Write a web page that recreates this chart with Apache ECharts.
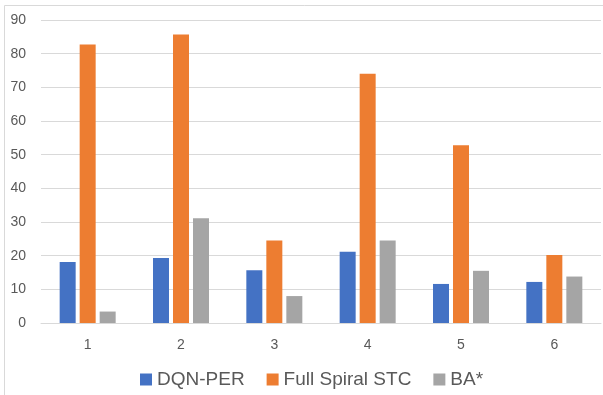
<!DOCTYPE html>
<html>
<head>
<meta charset="utf-8">
<script src="https://cdn.jsdelivr.net/npm/echarts@6/dist/echarts.min.js"></script>
<style>
  html, body { margin: 0; padding: 0; background: #fff; }
  #chart { width: 603px; height: 395px; }
</style>
</head>
<body>
<div id="chart"></div>
<script>
var categories = ['1', '2', '3', '4', '5', '6'];
var dqnPer = [18.1, 19.3, 15.7, 21.2, 11.6, 12.2];
var fullSpiralStc = [82.7, 85.7, 24.5, 74.0, 52.8, 20.2];
var baStar = [3.4, 31.1, 8.0, 24.5, 15.5, 13.8];

var chart = echarts.init(document.getElementById('chart'));
var txt = '#595959';
var line = '#d9d9d9';

chart.setOption({
    animation: false,
    textStyle: { fontFamily: 'Liberation Sans, Arial, sans-serif' },
    graphic: [{
        type: 'rect',
        shape: { x: 4.5, y: 5.5, width: 700, height: 500 },
        style: { fill: 'none', stroke: line, lineWidth: 1 },
        silent: true
    }],
    grid: { left: 41, right: 2, top: 20, bottom: 72 },
    legend: {
        left: 135,
        top: 365,
        itemWidth: 12,
        itemHeight: 12,
        itemGap: 22,
        icon: 'rect',
        textStyle: { color: txt, fontSize: 19 },
        data: ['DQN-PER', 'Full Spiral STC', 'BA*']
    },
    xAxis: {
        type: 'category',
        data: categories,
        axisTick: { show: false },
        axisLine: { lineStyle: { color: line } },
        axisLabel: { color: txt, fontSize: 14, margin: 15 }
    },
    yAxis: {
        type: 'value',
        min: 0,
        max: 90,
        interval: 10,
        axisLine: { show: false },
        axisTick: { show: false },
        splitLine: { lineStyle: { color: line } },
        axisLabel: { color: txt, fontSize: 14, margin: 15, align: 'right' }
    },
    series: [
        {
            name: 'DQN-PER', type: 'bar', data: dqnPer,
            barWidth: 16, barGap: '25%',
            itemStyle: { color: '#4472C4' }
        },
        {
            name: 'Full Spiral STC', type: 'bar', data: fullSpiralStc,
            barWidth: 16, barGap: '25%',
            itemStyle: { color: '#ED7D31' }
        },
        {
            name: 'BA*', type: 'bar', data: baStar,
            barWidth: 16, barGap: '25%',
            itemStyle: { color: '#A5A5A5' }
        }
    ]
});
</script>
</body>
</html>
